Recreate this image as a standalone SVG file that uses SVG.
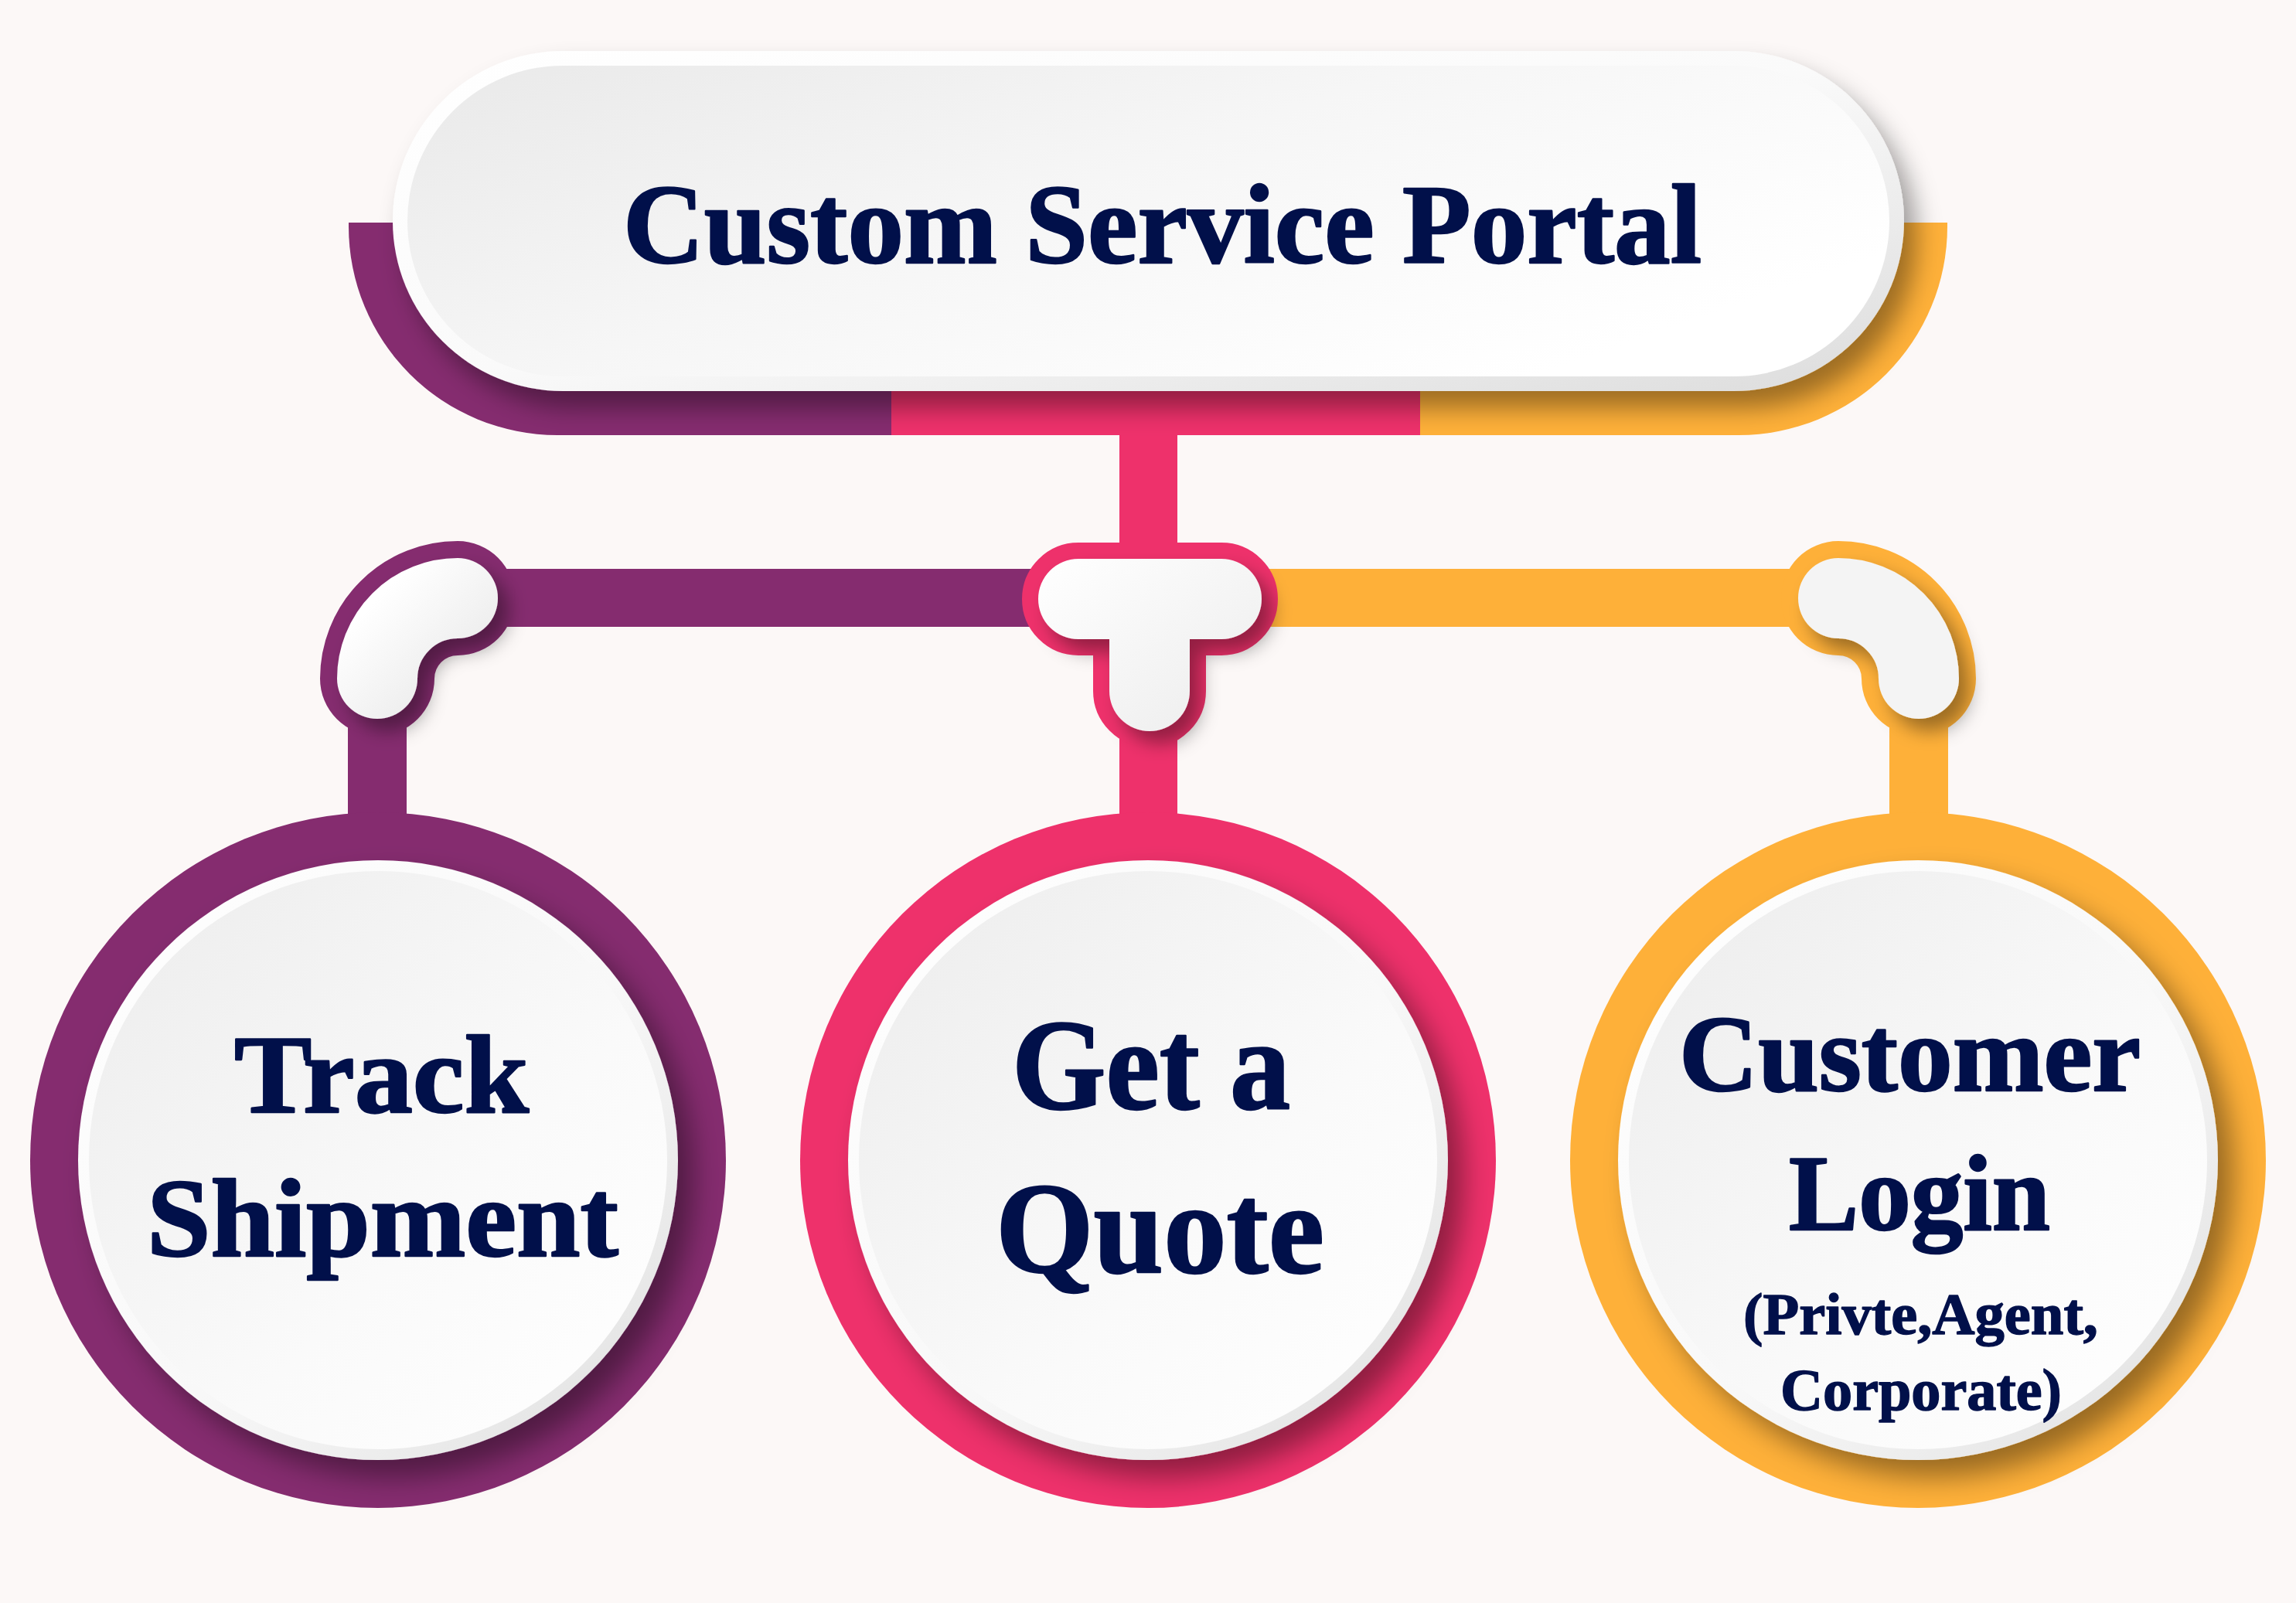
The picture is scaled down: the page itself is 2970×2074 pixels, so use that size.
<svg xmlns="http://www.w3.org/2000/svg" width="2970" height="2074" viewBox="0 0 2970 2074">
<defs>
<style>
.t{font-family:"Liberation Serif","Times New Roman",serif;font-weight:bold;fill:#01104A;stroke:#01104A;stroke-width:2.5;stroke-linejoin:round}
.s{stroke-width:1.5}
.pur{fill:#852C6F}.pnk{fill:#EE316B}.org{fill:#FEB039}
.ps{stroke:#852C6F}.ks{stroke:#EE316B}.os{stroke:#FEB039}
.elb{fill:none;stroke-linecap:round}
</style>
<linearGradient id="ringG" x1="0" y1="0" x2="1" y2="1"><stop offset="0" stop-color="#ffffff"/><stop offset="0.55" stop-color="#f8f8f8"/><stop offset="1" stop-color="#dedede"/></linearGradient>
<linearGradient id="discG" x1="0" y1="0" x2="1" y2="1"><stop offset="0" stop-color="#ececec"/><stop offset="0.6" stop-color="#fafafa"/><stop offset="1" stop-color="#ffffff"/></linearGradient>
<linearGradient id="pillRing" x1="0" y1="0" x2="1" y2="1"><stop offset="0" stop-color="#ffffff"/><stop offset="0.5" stop-color="#fafafa"/><stop offset="1" stop-color="#dcdcdc"/></linearGradient>
<linearGradient id="pillFill" x1="0" y1="0" x2="1" y2="0.6"><stop offset="0" stop-color="#e9e9e9"/><stop offset="0.5" stop-color="#f6f6f6"/><stop offset="1" stop-color="#ffffff"/></linearGradient>
<linearGradient id="whiteG" x1="0" y1="0" x2="1" y2="1"><stop offset="0" stop-color="#ffffff"/><stop offset="1" stop-color="#ececec"/></linearGradient>
<filter id="sh" x="-30%" y="-30%" width="170%" height="170%"><feDropShadow dx="14" dy="16" stdDeviation="12" flood-color="#000" flood-opacity="0.38"/></filter>
<filter id="shC" x="-20%" y="-20%" width="150%" height="150%"><feDropShadow dx="20" dy="22" stdDeviation="18" flood-color="#000" flood-opacity="0.4"/></filter>
<filter id="shP" x="-10%" y="-20%" width="130%" height="160%"><feDropShadow dx="16" dy="22" stdDeviation="16" flood-color="#000" flood-opacity="0.38"/></filter>
<clipPath id="bandClip"><path d="M451,288 L2519,288 L2519,293 A270,270 0 0 1 2249,563 L721,563 A270,270 0 0 1 451,293 Z"/></clipPath>
</defs>
<rect x="0" y="0" width="2970" height="2074" fill="#FCF8F7"/>

<g id="connectors">
  <rect class="pnk" x="1448" y="540" width="75" height="180"/>
  <rect class="pnk" x="1448" y="940" width="75" height="130"/>
  <rect class="pur" x="450" y="880" width="76" height="190"/>
  <rect class="org" x="2444" y="880" width="76" height="190"/>
  <rect class="pur" x="592" y="736" width="760" height="75"/>
  <rect class="org" x="1620" y="736" width="758" height="75"/>
  <path class="elb ps" stroke-width="148" d="M592,774 A104,104 0 0 0 488,878"/>
  <path class="elb os" stroke-width="148" d="M2378,774 A104,104 0 0 1 2482,878"/>
  <path class="pnk ks" stroke-width="42" stroke-linejoin="round" d="M1395,723 L1580,723 A52,52 0 0 1 1580,827 L1539,827 L1539,894 A52,52 0 0 1 1435,894 L1435,827 L1395,827 A52,52 0 0 1 1395,723 Z"/>
  <g filter="url(#sh)">
    <path class="elb" stroke="url(#whiteG)" stroke-width="104" d="M592,774 A104,104 0 0 0 488,878"/>
    <path class="elb" stroke="#f4f4f4" stroke-width="104" d="M2378,774 A104,104 0 0 1 2482,878"/>
    <path fill="url(#whiteG)" d="M1395,723 L1580,723 A52,52 0 0 1 1580,827 L1539,827 L1539,894 A52,52 0 0 1 1435,894 L1435,827 L1395,827 A52,52 0 0 1 1395,723 Z"/>
  </g>
</g>

<g id="node-portal">
  <g clip-path="url(#bandClip)">
    <rect class="pur" x="440" y="280" width="713" height="290"/>
    <rect class="pnk" x="1153" y="280" width="684" height="290"/>
    <rect class="org" x="1837" y="280" width="700" height="290"/>
  </g>
  <rect x="508" y="66" width="1955" height="440" rx="220" fill="url(#pillRing)" filter="url(#shP)"/>
  <rect x="527" y="85" width="1917" height="402" rx="201" fill="url(#pillFill)"/>
  <text class="t" x="806" y="340" font-size="147" textLength="1395" lengthAdjust="spacingAndGlyphs">Custom Service Portal</text>
</g>

<g id="node-track">
  <circle class="pur" cx="489" cy="1501" r="450"/>
  <circle cx="489" cy="1501" r="388" fill="url(#ringG)" filter="url(#shC)"/>
  <circle cx="489" cy="1501" r="374" fill="url(#discG)"/>
  <text class="t" x="303" y="1439" font-size="143" textLength="381" lengthAdjust="spacingAndGlyphs">Track</text>
  <text class="t" x="190" y="1625" font-size="143" textLength="610" lengthAdjust="spacingAndGlyphs">Shipment</text>
</g>

<g id="node-quote">
  <circle class="pnk" cx="1485" cy="1501" r="450"/>
  <circle cx="1485" cy="1501" r="388" fill="url(#ringG)" filter="url(#shC)"/>
  <circle cx="1485" cy="1501" r="374" fill="url(#discG)"/>
  <text class="t" x="1309" y="1434" font-size="168" textLength="360" lengthAdjust="spacingAndGlyphs">Get a</text>
  <text class="t" x="1288" y="1646" font-size="168" textLength="425" lengthAdjust="spacingAndGlyphs">Quote</text>
</g>

<g id="node-login">
  <circle class="org" cx="2481" cy="1501" r="450"/>
  <circle cx="2481" cy="1501" r="388" fill="url(#ringG)" filter="url(#shC)"/>
  <circle cx="2481" cy="1501" r="374" fill="url(#discG)"/>
  <text class="t" x="2172" y="1411" font-size="140" textLength="597" lengthAdjust="spacingAndGlyphs">Customer</text>
  <text class="t" x="2314" y="1591" font-size="140" textLength="338" lengthAdjust="spacingAndGlyphs">Login</text>
  <text class="t s" x="2255" y="1726" font-size="77" textLength="459" lengthAdjust="spacingAndGlyphs">(Privte,Agent,</text>
  <text class="t s" x="2303" y="1824" font-size="77" textLength="364" lengthAdjust="spacingAndGlyphs">Corporate)</text>
</g>
</svg>
